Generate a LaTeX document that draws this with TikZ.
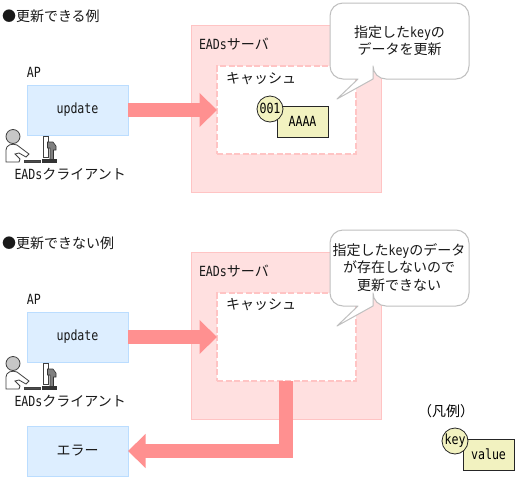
\documentclass[tikz,border=0pt]{standalone}
\usepackage{fontspec}
\setmainfont[FakeStretch=0.83]{DejaVu Sans Mono}
\newfontfamily\cjk{Noto Sans CJK JP}
\usetikzlibrary{arrows.meta,positioning}
\newcommand{\jp}[1]{{\cjk\fontsize{14}{17.5}\selectfont #1}}
\definecolor{srvfill}{HTML}{FFE0E0}
\definecolor{srvline}{HTML}{FFC4C4}
\definecolor{apfill}{HTML}{DDEEFF}
\definecolor{apline}{HTML}{BBDDFF}
\definecolor{arrowc}{HTML}{FF9090}
\definecolor{kvfill}{HTML}{F2F2C0}
\tikzset{
  x=1pt,y=-1pt,
  every node/.style={font=\fontsize{14}{17.5}\selectfont,inner sep=0pt,outer sep=0pt},
  lbl/.style={anchor=west,text=black!90},
  server/.style={draw=srvline,fill=srvfill,line width=1pt,anchor=north west,minimum width=190pt,minimum height=167pt},
  cachebox/.style={fill=white,anchor=north west,minimum width=139pt,minimum height=88pt},
  cachedash/.style={draw=srvline,line width=1.6pt,dash pattern=on 6pt off 2.5pt},
  apbox/.style={draw=apline,fill=apfill,line width=1pt,anchor=north west,minimum width=101pt,minimum height=50pt,text=black!90},
  flow/.style={draw=arrowc,line width=13.5pt,-{Triangle[length=17.5pt,width=33pt]},miter limit=10},
  keyc/.style={circle,draw=black!85,fill=kvfill,line width=0.8pt,minimum size=26pt},
  valbox/.style={draw=black!85,fill=kvfill,line width=0.8pt,anchor=north west,minimum width=51pt,minimum height=31pt},
  balloon/.style={draw=black!25,fill=white,line width=1pt,line join=round},
  ptext/.style={align=center,text=black!90},
  pic0/.style={draw=black!75,fill=white,line width=0.8pt},
  pic1/.style={draw=black!75,fill=black!22,line width=0.8pt},
  pic2/.style={draw=black!80,fill=black!50,line width=0.6pt},
}
\newcommand{\balloonat}[1]{%
  \begin{scope}[yshift=#1]
  \path[balloon,rounded corners=13pt] (330,3) -- (469,3) -- (469,79) -- (373,79)
    [sharp corners] -- (373,79) -- (337,99) -- (358,79)
    [rounded corners=13pt] -- (330,79) -- cycle;
  \end{scope}}
\newcommand{\person}[1]{%
  \begin{scope}[yshift=#1]
  \path[pic0] (6,162) -- (6,150) .. controls (6,145) and (12,143) .. (17,145)
     -- (29,154) -- (26,157) -- (19,153) -- (15,154) -- (20,159) -- (19,162) -- cycle;
  \path[pic1] (13,136.5) circle[radius=7];
  \path[pic0,fill=black!70] (24,160.5) rectangle (40,162);
  \path[pic0] (43,136) rectangle (48,157);
  \path[pic2] (47.5,142) -- (53,142) -- (56,146) -- (56,150) -- (53.5,150) -- (53.5,160) -- (50,160) -- (50,148) -- (47.5,148) -- cycle;
  \path[pic2,fill=black!80] (42,159.5) rectangle (56,162);
  \end{scope}}
\begin{document}
\begin{tikzpicture}
\useasboundingbox (0,0) rectangle (517,480);
\path[fill=white] (0,0) rectangle (517,480);

% ---- top example
\node[lbl] (t1) at (2,16) {\jp{●更新できる例}};
\node[server] (s1) at (191,25) {};
\node[lbl] (s1l) at (199,44) {EADs\jp{サーバ}};
\node[cachebox] (c1) at (217,66) {};
\node[cachedash,anchor=north west,minimum width=139pt,minimum height=88pt] (c1d) at (217,66) {};
\node[lbl] (c1l) at (226,79) {\jp{キャッシュ}};
\node[lbl] (ap1l) at (27,72) {AP};
\node[apbox] (a1) at (27,85) {update};
\person{0pt}
\node[lbl] (e1l) at (14.5,174) {EADs\jp{クライアント}};
\draw[flow] (a1.east) -- (c1.west);
\node[valbox] (v1) at (277,106) {AAAA};
\node[keyc] (k1) at (270,109) {};
\node[anchor=center] (k1t) at (270,108) {001};
\balloonat{0pt}
\node[ptext] (b1) at (399.5,40.5) {\jp{指定した}key\jp{の}\\\jp{データを更新}};

% ---- bottom example
\node[lbl] (t2) at (2,243) {\jp{●更新できない例}};
\node[server] (s2) at (191,252) {};
\node[lbl] (s2l) at (199,271) {EADs\jp{サーバ}};
\node[cachebox] (c2) at (217,293) {};
\node[cachedash,anchor=north west,minimum width=139pt,minimum height=88pt] (c2d) at (217,293) {};
\node[lbl] (c2l) at (226,305) {\jp{キャッシュ}};
\node[lbl] (ap2l) at (27,299) {AP};
\node[apbox] (a2) at (27,312) {update};
\person{-227pt}
\node[lbl] (e2l) at (14.5,401) {EADs\jp{クライアント}};
\draw[flow] (a2.east) -- (c2.west);
\node[apbox] (err) at (27,426) {\jp{エラー}};
\coordinate (drop) at (286,381);
\draw[flow] (drop) |- (err.east);
\balloonat{-227pt}
\node[ptext] (b2) at (399,267.5) {\jp{指定した}key\jp{のデータ}\\\jp{が存在しないので}\\\jp{更新できない}};

% ---- legend
\node[anchor=center] (lg) at (446,411) {\jp{（凡例）}};
\node[valbox] (v3) at (463,439) {value};
\node[keyc] (k3) at (455,441) {};
\node[anchor=center] (k3t) at (455,441) {key};
\end{tikzpicture}
\end{document}
